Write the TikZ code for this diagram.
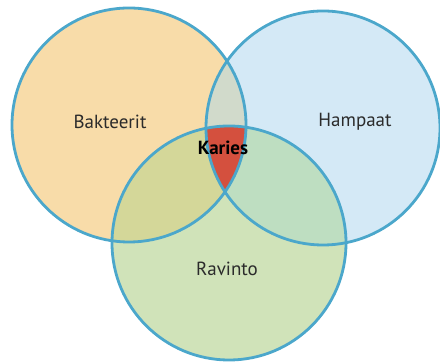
\documentclass[tikz,border=0pt]{standalone}
\usepackage{fontspec}
\setmainfont{PT Sans}
\definecolor{bakC}{HTML}{F8DCA9}
\definecolor{hamC}{HTML}{D4E9F6}
\definecolor{ravC}{HTML}{D0E3B9}
\definecolor{bhC}{HTML}{D1DACB}
\definecolor{brC}{HTML}{D4D799}
\definecolor{hrC}{HTML}{BEDEC1}
\definecolor{karC}{HTML}{D4503E}
\definecolor{edgeC}{HTML}{4BA7CB}
\definecolor{ink}{HTML}{2B2B2B}
\tikzset{
  rim/.style={draw=edgeC,line width=2.8pt},
  setlab/.style={font=\fontsize{19}{22}\selectfont,text=ink,inner sep=0pt},
  corelab/.style={font=\fontsize{19}{22}\selectfont\bfseries,text=black,inner sep=0pt},
}
\newcommand{\rad}{117}
\begin{document}
\begin{tikzpicture}[x=1pt,y=1pt]
\useasboundingbox (0,0) rectangle (440,363);

\coordinate (cB) at (129,238);
\coordinate (cH) at (323,235);
\coordinate (cR) at (229,120);

% ---- set fills
\fill[bakC] (cB) circle[radius=\rad];
\fill[hamC] (cH) circle[radius=\rad];
\fill[ravC] (cR) circle[radius=\rad];

% ---- overlaps
\begin{scope}
  \clip (cH) circle[radius=\rad];
  \fill[hrC] (cR) circle[radius=\rad];
\end{scope}
\begin{scope}
  \clip (cB) circle[radius=\rad];
  \fill[bhC] (cH) circle[radius=\rad];
  \fill[brC] (cR) circle[radius=\rad];
  \clip (cH) circle[radius=\rad];
  \fill[karC] (cR) circle[radius=\rad];
\end{scope}

% ---- rims
\draw[rim] (cB) circle[radius=\rad];
\draw[rim] (cH) circle[radius=\rad];
\draw[rim] (cR) circle[radius=\rad];

% ---- labels
\node[setlab] (bak) at (110,241) {Bakteerit};
\node[setlab] (ham) at (355,241) {Hampaat};
\node[setlab] (rav) at (227,94) {Ravinto};
\node[corelab] (kar) at (223,215) {Karies};

\end{tikzpicture}
\end{document}
